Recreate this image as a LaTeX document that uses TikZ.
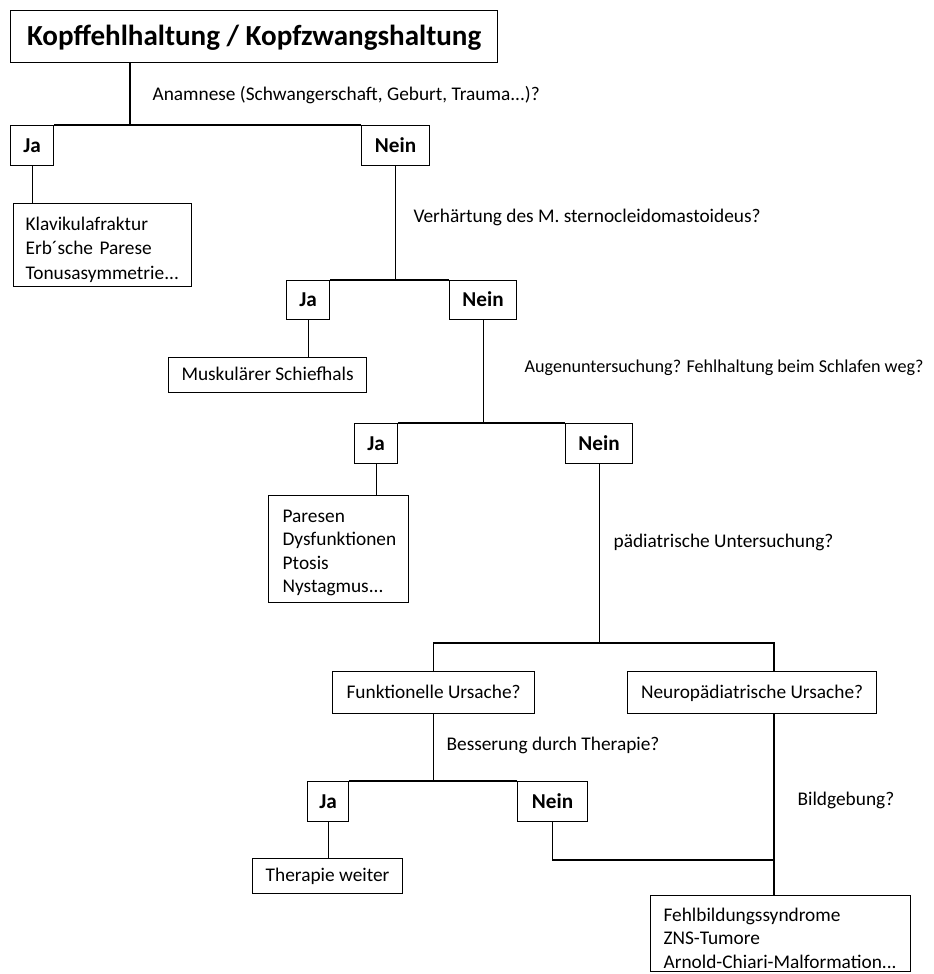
\documentclass[tikz,border=0pt]{standalone}
\usepackage{fontspec}
\setmainfont{Carlito}
\begin{document}
\begin{tikzpicture}[x=0.75pt,y=-0.75pt,
  line width=0.9pt,
  bx/.style={draw, line width=0.9pt, inner sep=0pt, anchor=north west},
  wh/.style 2 args={minimum width=#1, minimum height=#2},
  lab/.style={font=\fontsize{15.9}{19}\selectfont\bfseries, text height=11pt, text depth=0.8pt},
  txt/.style={font=\fontsize{14.5}{18}\selectfont},
  one/.style={txt, text height=10pt, text depth=1.6pt},
  q/.style={txt, anchor=west, inner sep=0pt},
  list/.style 2 args={txt, align=left, inner ysep=0pt, text height=#1, text depth=#2}]
\useasboundingbox (0,0) rectangle (933,974);
% boxes
\node[bx, wh={365.25pt}{39pt}, font=\fontsize{21.8}{26}\selectfont\bfseries, text height=15.5pt, text depth=1.5pt] (title) at (10,10) {Kopffehlhaltung / Kopfzwangshaltung};
\node[bx, lab, wh={32.25pt}{30pt}] (ja1) at (10,125) {Ja};
\node[bx, lab, wh={51pt}{30pt}] (nein1) at (361,125) {Nein};
\node[bx, list={19.9pt}{42.35pt}, wh={133.5pt}{62.25pt}, text width=115.5pt, inner xsep=9pt,
  font=\fontsize{14.5}{18.4}\selectfont] (klav) at (13,203) {Klavikulafraktur\\Erb´sche Parese\\Tonusasymmetrie...};
\node[bx, lab, wh={32.25pt}{29.25pt}] (ja2) at (286,280) {Ja};
\node[bx, lab, wh={50.25pt}{29.25pt}] (nein2) at (449,280) {Nein};
\node[bx, one, wh={148.5pt}{26.25pt}] (musk) at (168,357) {Muskulärer Schiefhals};
\node[bx, lab, wh={32.25pt}{30pt}] (ja3) at (354,423) {Ja};
\node[bx, lab, wh={50.25pt}{30pt}] (nein3) at (565,423) {Nein};
\node[bx, list={19.9pt}{60.35pt}, wh={105pt}{80.25pt}, text width=84pt, inner xsep=10.5pt,
  font=\fontsize{14.5}{17.6}\selectfont] (par) at (268,495) {Paresen\\Dysfunktionen\\Ptosis\\Nystagmus...};
\node[bx, one, wh={151.5pt}{31.5pt}] (funk) at (332,671) {Funktionelle Ursache?};
\node[bx, one, wh={186.75pt}{31.5pt}] (neuro) at (627,671) {Neuropädiatrische Ursache?};
\node[bx, lab, wh={30.75pt}{30pt}] (ja4) at (307,781) {Ja};
\node[bx, lab, wh={52.5pt}{30pt}] (nein4) at (517,781) {Nein};
\node[bx, one, wh={112.5pt}{26.25pt}] (ther) at (252,858) {Therapie weiter};
\node[bx, list={19.1pt}{37.9pt}, wh={195pt}{57pt}, text width=175.5pt, inner xsep=9.75pt,
  font=\fontsize{14.5}{17.6}\selectfont] (arn) at (650,895) {Fehlbildungssyndrome\\ZNS-Tumore\\Arnold-Chiari-Malformation...};
% questions
\node[q] (q1) at (152,95) {Anamnese (Schwangerschaft, Geburt, Trauma...)?};
\node[q] (q2) at (413,217) {Verhärtung des M. sternocleidomastoideus?};
\node[q, font=\fontsize{13.6}{17}\selectfont] (q3) at (524,368) {Augenuntersuchung? Fehlhaltung beim Schlafen weg?};
\node[q] (q4) at (613,542) {pädiatrische Untersuchung?};
\node[q] (q5) at (446,745) {Besserung durch Therapie?};
\node[q] (q6) at (797,800) {Bildgebung?};
% connectors
\coordinate (c1) at (130,125);
\draw (title.south -| c1) -- (c1);
\draw (ja1.north east) -- (nein1.north west);
\draw (ja1.south) -- (ja1.south |- klav.north);
\draw (nein1.south) -- (nein1.south |- ja2.north);
\draw (ja2.north east) -- (nein2.north west);
\draw (ja2.south) -- (ja2.south |- musk.north);
\draw (nein2.south) -- (nein2.south |- ja3.north);
\draw (ja3.north east) -- (nein3.north west);
\draw (ja3.south) -- (ja3.south |- par.north);
\coordinate (fl) at (433,643);
\coordinate (nr) at (774,643);
\draw (nein3.south) -- (nein3.south |- fl);
\draw (funk.north) -- (funk.north |- fl) -- (nr) -- (nr |- neuro.north);
\draw (funk.south) -- (funk.south |- ja4.north);
\draw (ja4.north east) -- (nein4.north west);
\draw (ja4.south) -- (ja4.south |- ther.north);
\draw (neuro.south -| nr) -- (arn.north -| nr);
\coordinate (mj) at (774,860);
\draw (nein4.south) -- (nein4.south |- mj) -- (mj);
\end{tikzpicture}
\end{document}
